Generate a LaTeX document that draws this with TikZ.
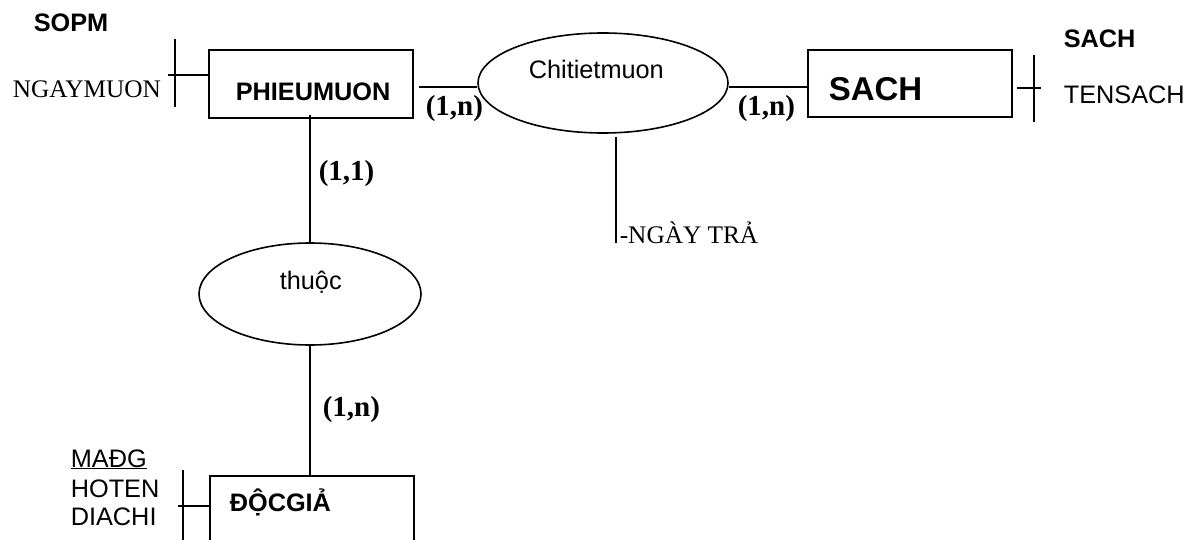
\documentclass[tikz,border=0pt]{standalone}
\usepackage{fontspec}
\setmainfont{Liberation Serif}
\setsansfont{Liberation Sans}
\usetikzlibrary{shapes.geometric,calc}
\begin{document}
\begin{tikzpicture}[x=1pt,y=-1pt,line width=1.6pt,
  ent/.style={draw,rectangle,inner sep=0pt},
  rel/.style={draw,ellipse,inner sep=0pt},
  txt/.style={inner sep=0pt,anchor=base west},
  sf/.style={txt,font=\fontsize{25.3}{29}\selectfont\sffamily},
  sfb/.style={txt,font=\fontsize{25.3}{29}\selectfont\sffamily\bfseries},
  rm/.style={txt,font=\fontsize{25.3}{29}\selectfont\rmfamily},
  card/.style={txt,font=\fontsize{29}{33}\selectfont\rmfamily\bfseries}]
\clip (0,0) rectangle (1196,540);
% entities and relations
\node[ent,minimum width=204pt,minimum height=68pt] (pm) at (311,84) {};
\node[ent,minimum width=204pt,minimum height=67pt] (sach) at (910,83.5) {};
\node[ent,minimum width=204pt,minimum height=140pt] (dg) at (312,546) {};
\node[rel,minimum width=250pt,minimum height=100pt] (ctm) at (603,83) {};
\node[rel,minimum width=222pt,minimum height=102pt] (thuoc) at (310,294) {};
% texts
\node[sfb] (pmt) at (235,101) {PHIEUMUON};
\node[txt,font=\fontsize{33}{38}\selectfont\sffamily\bfseries] (sacht) at (828,101) {SACH};
\node[sfb] (dgt) at (229,511) {ĐỘCGIẢ};
\node[sf] (ctmt) at (528,79) {Chitietmuon};
\node[sf] (thuoct) at (279,289) {thuộc};
\node[sfb] (sopm) at (33,32) {SOPM};
\node[rm] (ngaymuon) at (12,98) {NGAYMUON};
\node[sfb] (sachlbl) at (1063,48) {SACH};
\node[sf] (tensach) at (1063,104) {TENSACH};
\node[card] (c1) at (425,116) {(1,n)};
\node[card] (c2) at (737,116) {(1,n)};
\node[card] (c3) at (318,181) {(1,1)};
\node[card] (c4) at (322,416) {(1,n)};
\node[sf] (madg) at (70,467) {\underline{MAĐG}};
\node[sf] (hoten) at (70,497) {HOTEN};
\node[sf] (diachi) at (70,525) {DIACHI};
\node[rm] (ngaytra) at (619,243) {-NGÀY TRẢ};
% connectors
\draw ([xshift=5pt,yshift=-3pt]pm.east) -- ([yshift=-4pt]ctm.west);
\draw ([yshift=-4pt]ctm.east) -- ([yshift=-4pt]ctm.east -| sach.west);
\draw (thuoc.north) -- ($(thuoc.north |- pm.south)+(0,-4)$);
\draw (thuoc.south) -- (thuoc.south |- dg.north);
\coordinate (ntop) at (616,137);
\draw (ntop) -- (ntop |- ngaytra.base);
% attribute ticks
\coordinate (pa) at (175,39); \coordinate (pb) at (175,107);
\draw (pa) -- (pb);
\coordinate (ph) at (168,75);
\draw (ph) -- (ph -| pm.west);
\coordinate (sa) at (1034,55); \coordinate (sb) at (1034,122);
\draw (sa) -- (sb);
\coordinate (sh1) at (1017,88); \coordinate (sh2) at (1041,88);
\draw (sh1) -- (sh2);
\coordinate (da) at (183,470); \coordinate (db) at (183,548);
\draw (da) -- (db);
\coordinate (dh) at (178,506);
\draw (dh) -- (dh -| dg.west);
\end{tikzpicture}
\end{document}
